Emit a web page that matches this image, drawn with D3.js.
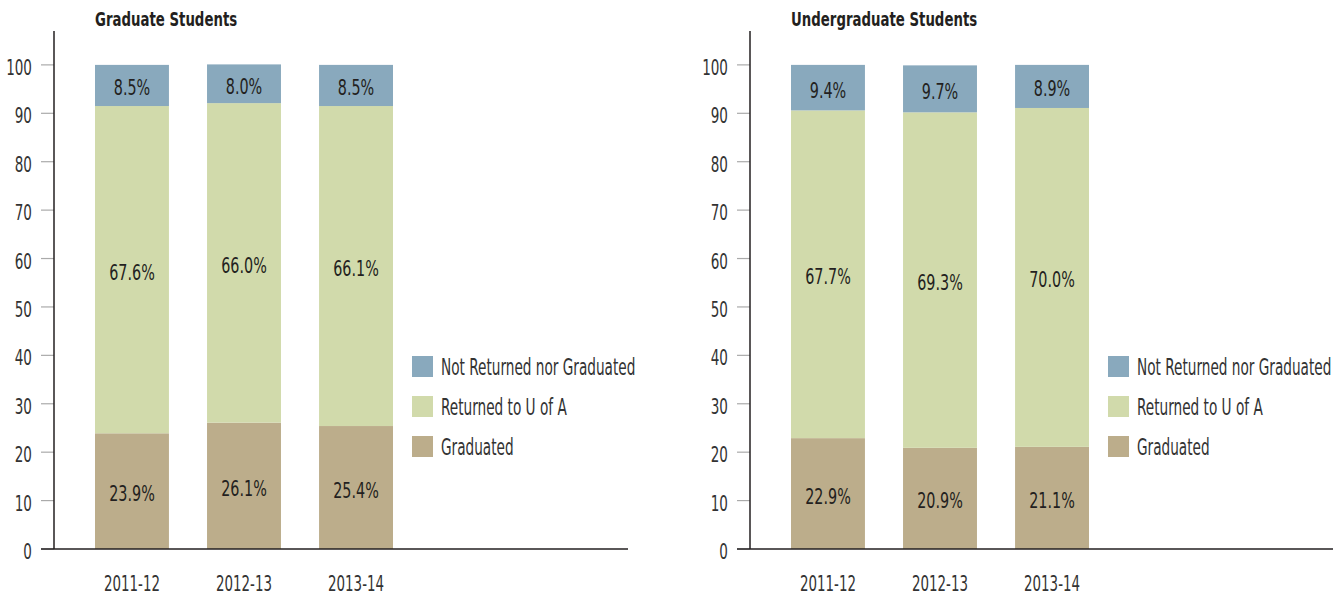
<!DOCTYPE html>
<html>
<head>
<meta charset="utf-8">
<script src="https://cdn.jsdelivr.net/npm/d3@7"></script>
<style>
  html, body { margin: 0; padding: 0; background: #fff; }
  svg { display: block; }
</style>
</head>
<body>
<svg id="chart" width="1343" height="597"></svg>
<script>
// ---- data ----
const categories = ["2011-12", "2012-13", "2013-14"];
const seriesNames = ["Graduated", "Returned to U of A", "Not Returned nor Graduated"];
const gradGraduated = [23.9, 26.1, 25.4];
const gradReturned = [67.6, 66.0, 66.1];
const gradNotReturned = [8.5, 8.0, 8.5];
const ugradGraduated = [22.9, 20.9, 21.1];
const ugradReturned = [67.7, 69.3, 70.0];
const ugradNotReturned = [9.4, 9.7, 8.9];
const yTicks = [0, 10, 20, 30, 40, 50, 60, 70, 80, 90, 100];
const legendOrder = ["Not Returned nor Graduated", "Returned to U of A", "Graduated"];

const colors = {
  "Graduated": "#bcad8b",
  "Returned to U of A": "#d1daab",
  "Not Returned nor Graduated": "#89a9bd"
};

const FONT = "'DejaVu Sans Condensed', 'DejaVu Sans', sans-serif";

const svg = d3.select("#chart");

function addText(g, x, y, str, opts) {
  return g.append("text")
    .attr("transform", `translate(${x},${y}) scale(${opts.sx},1)`)
    .attr("text-anchor", opts.anchor || "start")
    .attr("font-family", FONT)
    .attr("font-size", opts.size)
    .attr("font-weight", opts.weight || "normal")
    .attr("fill", opts.fill || "#333")
    .text(str);
}

function drawPanel(title, axisX, baseEnd, g1, g2, g3) {
  const g = svg.append("g");
  const y = d3.scaleLinear().domain([0, 107]).range([549, 31]);
  const x = d3.scaleBand().domain(categories)
    .range([axisX, axisX + 380]).paddingInner(0.34).paddingOuter(0.366);

  const rows = categories.map((c, i) => ({
    cat: c,
    "Graduated": g1[i],
    "Returned to U of A": g2[i],
    "Not Returned nor Graduated": g3[i]
  }));
  const stacked = d3.stack().keys(seriesNames)(rows);

  // bars
  stacked.forEach(layer => {
    g.selectAll(null).data(layer).enter().append("rect")
      .attr("x", d => x(d.data.cat))
      .attr("width", x.bandwidth())
      .attr("y", d => y(d[1]))
      .attr("height", d => y(d[0]) - y(d[1]))
      .attr("fill", colors[layer.key]);
  });

  // value labels
  stacked.forEach(layer => {
    layer.forEach(d => {
      const mid = (y(d[0]) + y(d[1])) / 2;
      addText(g, x(d.data.cat) + x.bandwidth() / 2, mid + 10,
        d.data[layer.key].toFixed(1) + "%",
        { anchor: "middle", size: 21, fill: "#231f20", sx: 0.76 });
    });
  });

  // y ticks
  yTicks.forEach(t => {
    g.append("line")
      .attr("x1", axisX - 13).attr("x2", axisX)
      .attr("y1", y(t)).attr("y2", y(t))
      .attr("stroke", "#aaa").attr("stroke-width", 1.2);
    addText(g, axisX - 22, y(t) + 10, String(t), { anchor: "end", size: 22, fill: "#333", sx: 0.685 });
  });

  // axis lines
  g.append("line")
    .attr("x1", axisX).attr("x2", axisX)
    .attr("y1", y(107)).attr("y2", y(0))
    .attr("stroke", "#231f20").attr("stroke-width", 1.5);
  g.append("line")
    .attr("x1", axisX - 13).attr("x2", baseEnd)
    .attr("y1", y(0)).attr("y2", y(0))
    .attr("stroke", "#231f20").attr("stroke-width", 1.5);

  // x labels
  categories.forEach(c => {
    addText(g, x(c) + x.bandwidth() / 2, 591, c, { anchor: "middle", size: 21, fill: "#333", sx: 0.71 });
  });

  // title
  addText(g, x(categories[0]), 26, title, { size: 20, weight: "bold", fill: "#231f20", sx: 0.74 });

  // legend
  legendOrder.forEach((k, i) => {
    const ly = 356 + i * 40;
    g.append("rect")
      .attr("x", axisX + 358).attr("y", ly)
      .attr("width", 21).attr("height", 21)
      .attr("fill", colors[k]);
    addText(g, axisX + 387, ly + 19, k, { size: 23, fill: "#333", sx: 0.66 });
  });
}

drawPanel("Graduate Students", 54, 628, gradGraduated, gradReturned, gradNotReturned);
drawPanel("Undergraduate Students", 750, 1333, ugradGraduated, ugradReturned, ugradNotReturned);
</script>
</body>
</html>
